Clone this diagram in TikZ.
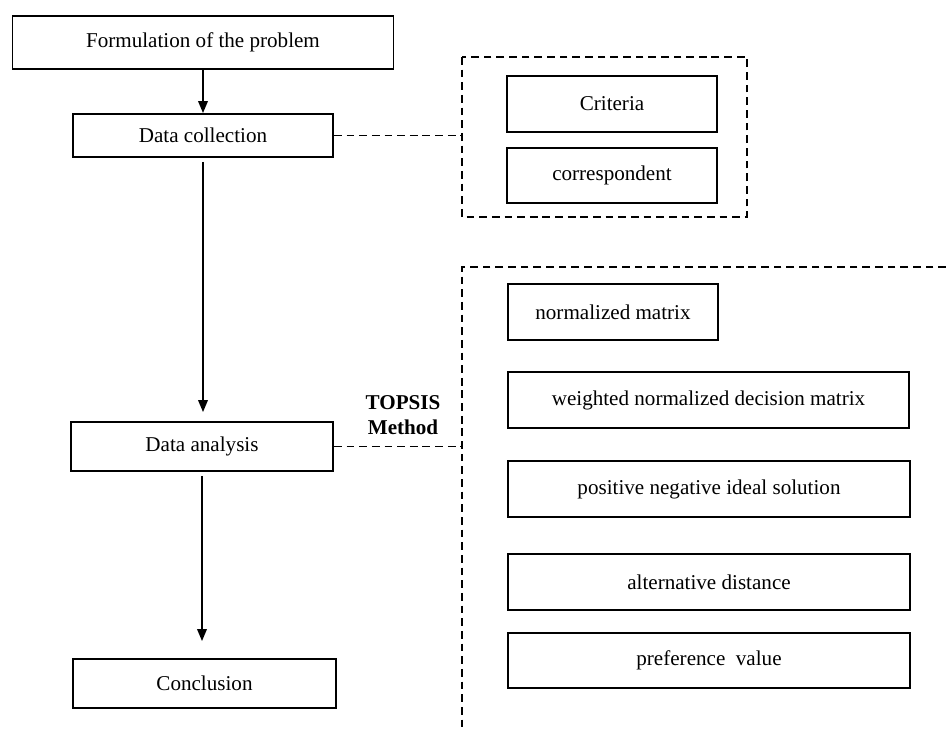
\documentclass[tikz,border=0pt]{standalone}
\usepackage{fontspec}
\setmainfont{Liberation Serif}
\usetikzlibrary{arrows.meta}

\begin{document}
\begin{tikzpicture}[x=0.025cm, y=-0.025cm,
    box/.style={draw, line width=1.2pt, inner sep=0pt, align=center,
      font=\fontsize{15}{18}\selectfont},
    arrow/.style={line width=1.2pt, -{Triangle[length=3mm, width=2.4mm]}},
    dashline/.style={line width=1.3pt, dash pattern=on 5.5pt off 3.5pt}]

    % 画布
    \useasboundingbox (0,0) rectangle (946,729);

    % 左侧流程
    \node[box, minimum width=9.53cm, minimum height=1.33cm] (form) at (203,42.5) {Formulation of the problem};
    \node[box, minimum width=6.5cm, minimum height=1.08cm] (collect) at (203,135.5) {Data collection};
    \node[box, minimum width=6.55cm, minimum height=1.23cm] (analysis) at (202,446.5) {Data analysis};
    \node[box, minimum width=6.58cm, minimum height=1.23cm] (concl) at (204.5,683.5) {Conclusion};

    \draw[arrow] (form.south) -- (form.south |- collect.north);
    \draw[arrow, shorten <=0.1cm, shorten >=0.225cm] (collect.south) -- (collect.south |- analysis.north);
    \draw[arrow, shorten <=0.1cm, shorten >=0.425cm] (analysis.south) -- (analysis.south |- concl.north);

    % 数据收集
    \coordinate (edge) at (462,0);
    \draw[dashline] (462,57) rectangle (747,217);
    \node[box, minimum width=5.25cm, minimum height=1.4cm] (crit) at (612,104) {Criteria};
    \node[box, minimum width=5.25cm, minimum height=1.38cm] (corr) at (612,175.5) {correspondent};
    \draw[dashline] (collect.east) -- (collect.east -| edge);

    % TOPSIS
    \draw[dashline] (946,267) -- (462,267) -- (462,729);
    \draw[dashline] (analysis.east) -- (analysis.east -| edge);
    \node[align=center, font=\fontsize{15}{18}\selectfont\bfseries] (topsis) at (403,415) {TOPSIS\\Method};

    \node[box, minimum width=5.25cm, minimum height=1.4cm] (norm) at (613,312) {normalized matrix};
    \node[box, minimum width=10.03cm, minimum height=1.4cm] (weight) at (708.5,400) {weighted normalized decision matrix};
    \node[box, minimum width=10.05cm, minimum height=1.4cm] (ideal) at (709,489) {positive negative ideal solution};
    \node[box, minimum width=10.05cm, minimum height=1.4cm] (dist) at (709,582) {alternative distance};
    \node[box, minimum width=10.05cm, minimum height=1.38cm] (pref) at (709,660.5) {preference\ \ value};

\end{tikzpicture}
\end{document}
